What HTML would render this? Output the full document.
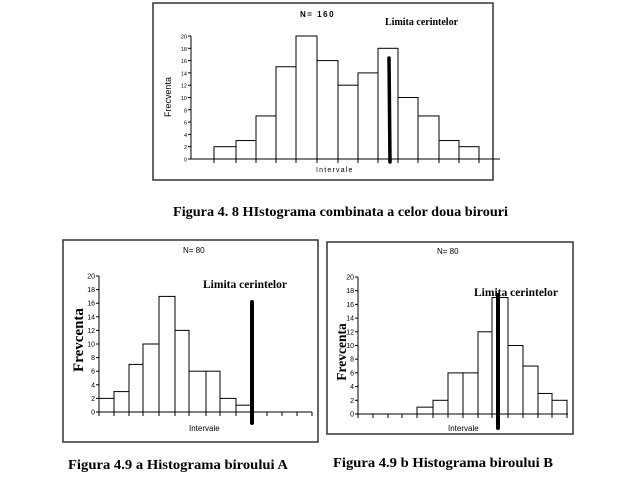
<!DOCTYPE html>
<html><head><meta charset="utf-8"><style>
html,body{margin:0;padding:0;background:#fff;width:635px;height:478px;overflow:hidden}
svg{display:block}
.t{font-family:"Liberation Sans",sans-serif;fill:#000}
.s{font-family:"Liberation Serif",serif;font-weight:bold;fill:#000}
</style></head><body>
<svg id="g" width="635" height="478" viewBox="0 0 635 478" xmlns="http://www.w3.org/2000/svg">
<rect x="153" y="3" width="340" height="177" fill="none" stroke="#333" stroke-width="1.5"/>
<rect x="63" y="240" width="255" height="202" fill="none" stroke="#333" stroke-width="1.5"/>
<rect x="327" y="242" width="246" height="192" fill="none" stroke="#333" stroke-width="1.5"/>
<text class="t" x="300" y="17" font-size="8" font-weight="bold" letter-spacing="1.5">N= 160</text>
<text class="s" x="385" y="25" font-size="10">Limita cerintelor</text>
<text class="t" x="316" y="172" font-size="7" letter-spacing="1.2">Intervale</text>
<text class="t" transform="translate(171,97) rotate(-90)" font-size="9" text-anchor="middle">Frecventa</text>
<text class="t" x="183" y="253" font-size="8">N= 80</text>
<text class="s" x="203" y="288" font-size="11.5">Limita cerintelor</text>
<text class="t" x="189" y="431" font-size="8">Intervale</text>
<text class="s" transform="translate(83,340) rotate(-90)" font-size="15" text-anchor="middle">Frevcenta</text>
<text class="t" x="437" y="254" font-size="8">N= 80</text>
<text class="s" x="474" y="296" font-size="11.5">Limita cerintelor</text>
<text class="t" x="448" y="431" font-size="8">Intervale</text>
<text class="s" transform="translate(346,352) rotate(-90)" font-size="13.5" text-anchor="middle">Frevcenta</text>
<text class="s" x="173" y="216" font-size="13.5" textLength="335" lengthAdjust="spacingAndGlyphs">Figura 4. 8 HIstograma combinata a celor doua birouri</text>
<text class="s" x="68" y="469" font-size="13.5" textLength="220" lengthAdjust="spacingAndGlyphs">Figura 4.9 a Histograma biroului A</text>
<text class="s" x="333" y="467" font-size="13.5" textLength="220" lengthAdjust="spacingAndGlyphs">Figura 4.9 b Histograma biroului B</text>
</svg>
<script>
var g=document.getElementById('g'),NS='http://www.w3.org/2000/svg';
function el(n,a,txt){var e=document.createElementNS(NS,n);for(var k in a)e.setAttribute(k,a[k]);if(txt!=null)e.textContent=txt;g.appendChild(e);return e;}
function chart(o){
 var u=(o.y0-o.y20)/20;
 el('line',{x1:o.ax,y1:o.y0,x2:o.ax,y2:o.y20,stroke:'#000','stroke-width':1});
 for(var v=0;v<=20;v+=2){var y=o.y0-v*u;
  el('line',{x1:o.ax-3,y1:y,x2:o.ax,y2:y,stroke:'#000','stroke-width':1});
  el('text',{x:o.ax-4,y:y+2.5,'font-size':o.fs,'text-anchor':'end','class':'t'},v);}
 el('line',{x1:o.ax,y1:o.y0,x2:o.xe,y2:o.y0,stroke:'#000','stroke-width':1});
 o.edges.forEach(function(x){el('line',{x1:x,y1:o.y0,x2:x,y2:o.y0+4,stroke:'#000','stroke-width':1});});
 for(var i=0;i<o.vals.length;i++){var x1=o.bx[i],x2=o.bx[i+1],h=o.vals[i]*u;
  el('rect',{x:x1,y:o.y0-h,width:x2-x1,height:h,fill:'#fff',stroke:'#000','stroke-width':1});}
 el('line',{x1:o.lx,y1:o.ly1,x2:o.lx2||o.lx,y2:o.ly2,stroke:'#000','stroke-width':o.lw,'stroke-linecap':'round'});
}
chart({ax:191,y0:159,y20:36,xe:500,fs:5.5,
 bx:[214,236,256,276,296,317,338,358,378,398,418,439,459,479],
 vals:[2,3,7,15,20,16,12,14,18,10,7,3,2],edges:[214,236,256,276,296,317,338,358,378,398,418,439,459,479],
 lx:389,lx2:390,ly1:58,ly2:162,lw:3.5});
chart({ax:99,y0:412,y20:276,xe:312,fs:7,
 bx:[99,114,129,143,159,175,189,206,220,236,252],
 vals:[2,3,7,10,17,12,6,6,2,1],edges:[99,114,129,143,159,175,189,206,220,236,252,267,282,297,312],
 lx:252,ly1:302,ly2:423,lw:4});
chart({ax:358,y0:414,y20:277,xe:568,fs:7,
 bx:[417,433,448,463,478,492,508,523,538,552,567],
 vals:[1,2,6,6,12,17,10,7,3,2],edges:[358,373,388,402,417,433,448,463,478,492,508,523,538,552,567],
 lx:498,ly1:295,ly2:428,lw:4});
</script>
</body></html>
